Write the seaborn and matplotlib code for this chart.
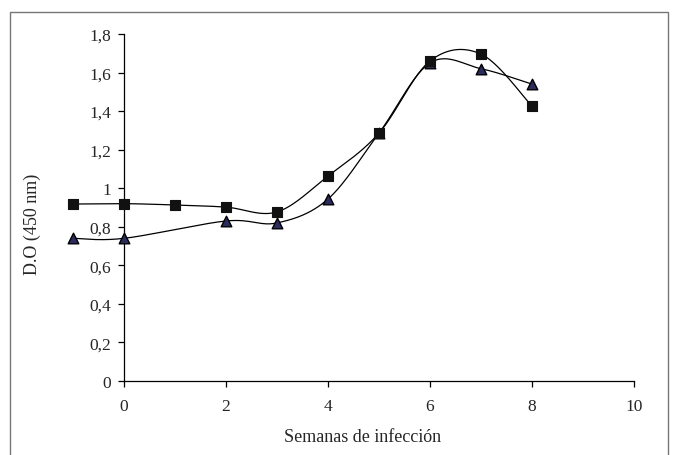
import numpy as np
import pandas as pd
import matplotlib
matplotlib.use("Agg")
import matplotlib.pyplot as plt
import seaborn as sns
from matplotlib.patches import Rectangle

# Data
weeks_sq = [-1, 0, 1, 2, 3, 4, 5, 6, 7, 8]
od_sq = [0.918, 0.92, 0.913, 0.902, 0.877, 1.063, 1.286, 1.66, 1.696, 1.426]
weeks_tri = [-1, 0, 2, 3, 4, 5, 6, 7, 8]
od_tri = [0.74, 0.74, 0.83, 0.82, 0.944, 1.286, 1.65, 1.62, 1.54]

x_ticks = [0, 2, 4, 6, 8, 10]
y_ticks = [0, 0.2, 0.4, 0.6, 0.8, 1.0, 1.2, 1.4, 1.6, 1.8]
y_tick_labels = ["0", "0,2", "0,4", "0,6", "0,8", "1", "1,2", "1,4", "1,6", "1,8"]
x_label = "Semanas de infección"
y_label = "D.O (450 nm)"


def smooth(xs, ys, n=30):
    """Excel-style smoothed line (Catmull-Rom Bezier) through the points."""
    p = np.column_stack([xs, ys]).astype(float)
    out = []
    for i in range(len(p) - 1):
        p0 = p[i - 1] if i > 0 else p[i]
        p1, p2 = p[i], p[i + 1]
        p3 = p[i + 2] if i + 2 < len(p) else p[i + 1]
        c1 = p1 + (p2 - p0) / 6.0
        c2 = p2 - (p3 - p1) / 6.0
        t = np.linspace(0, 1, n, endpoint=(i == len(p) - 2))[:, None]
        seg = ((1 - t) ** 3) * p1 + 3 * ((1 - t) ** 2) * t * c1 + 3 * (1 - t) * t ** 2 * c2 + t ** 3 * p2
        out.append(seg)
    s = np.vstack(out)
    return s[:, 0], s[:, 1]


sns.set_style("ticks")
plt.rcParams["font.family"] = ["Liberation Serif", "DejaVu Serif"]

W, H = 677, 456
fig = plt.figure(figsize=(W / 100, H / 100), dpi=100)
x0_px, x10_px = 124, 634
ppu = (x10_px - x0_px) / 10.0
xmin = -1.3
left_px = x0_px + xmin * ppu
y0_px, y18_px = 382, 35
ax = fig.add_axes([left_px / W, (H - y0_px) / H, (x10_px - left_px) / W, (y0_px - y18_px) / H])

tx, ty = smooth(weeks_tri, od_tri)
sx, sy = smooth(weeks_sq, od_sq)
sns.lineplot(x=tx, y=ty, ax=ax, color="black", lw=0.9, estimator=None, sort=False)
sns.lineplot(x=sx, y=sy, ax=ax, color="black", lw=0.9, estimator=None, sort=False)
sns.scatterplot(x=weeks_tri, y=od_tri, ax=ax, marker="^", s=58, color="#2b2b5e",
                edgecolor="black", linewidth=1.0, zorder=3)
sns.scatterplot(x=weeks_sq, y=od_sq, ax=ax, marker="s", s=52, color="#111111",
                edgecolor="#111111", linewidth=0.8, zorder=4)

ax.set_xlim(xmin, 10)
ax.set_ylim(0, 1.8)
ax.spines["top"].set_visible(False)
ax.spines["right"].set_visible(False)
ax.spines["left"].set_position(("data", 0))
ax.spines["bottom"].set_bounds(0, 10)
for sp in ("left", "bottom"):
    ax.spines[sp].set_color("black")
    ax.spines[sp].set_linewidth(0.9)
ax.set_xticks(x_ticks)
ax.set_xticklabels([str(v) for v in x_ticks])
ax.set_yticks(y_ticks)
ax.set_yticklabels(y_tick_labels)
ax.tick_params(direction="out", length=4.3, width=0.9, color="black", labelsize=12.5)
ax.tick_params(axis="y", pad=5)
ax.tick_params(axis="x", pad=8)
ax.set_xlabel("")
ax.set_ylabel("")
fig.text(363 / W, 1 - 438 / H, x_label, ha="center", va="center", fontsize=13)
fig.text(32 / W, 1 - 224 / H, y_label, ha="center", va="center", rotation=90, fontsize=13)
ax.patch.set_alpha(0)

fig.patches.append(Rectangle((10 / W, -0.01), 658 / W, 1 - 13 / H + 0.01, transform=fig.transFigure,
                             fill=False, edgecolor="#777777", lw=1.0))

fig.savefig("out.png", dpi=100)
